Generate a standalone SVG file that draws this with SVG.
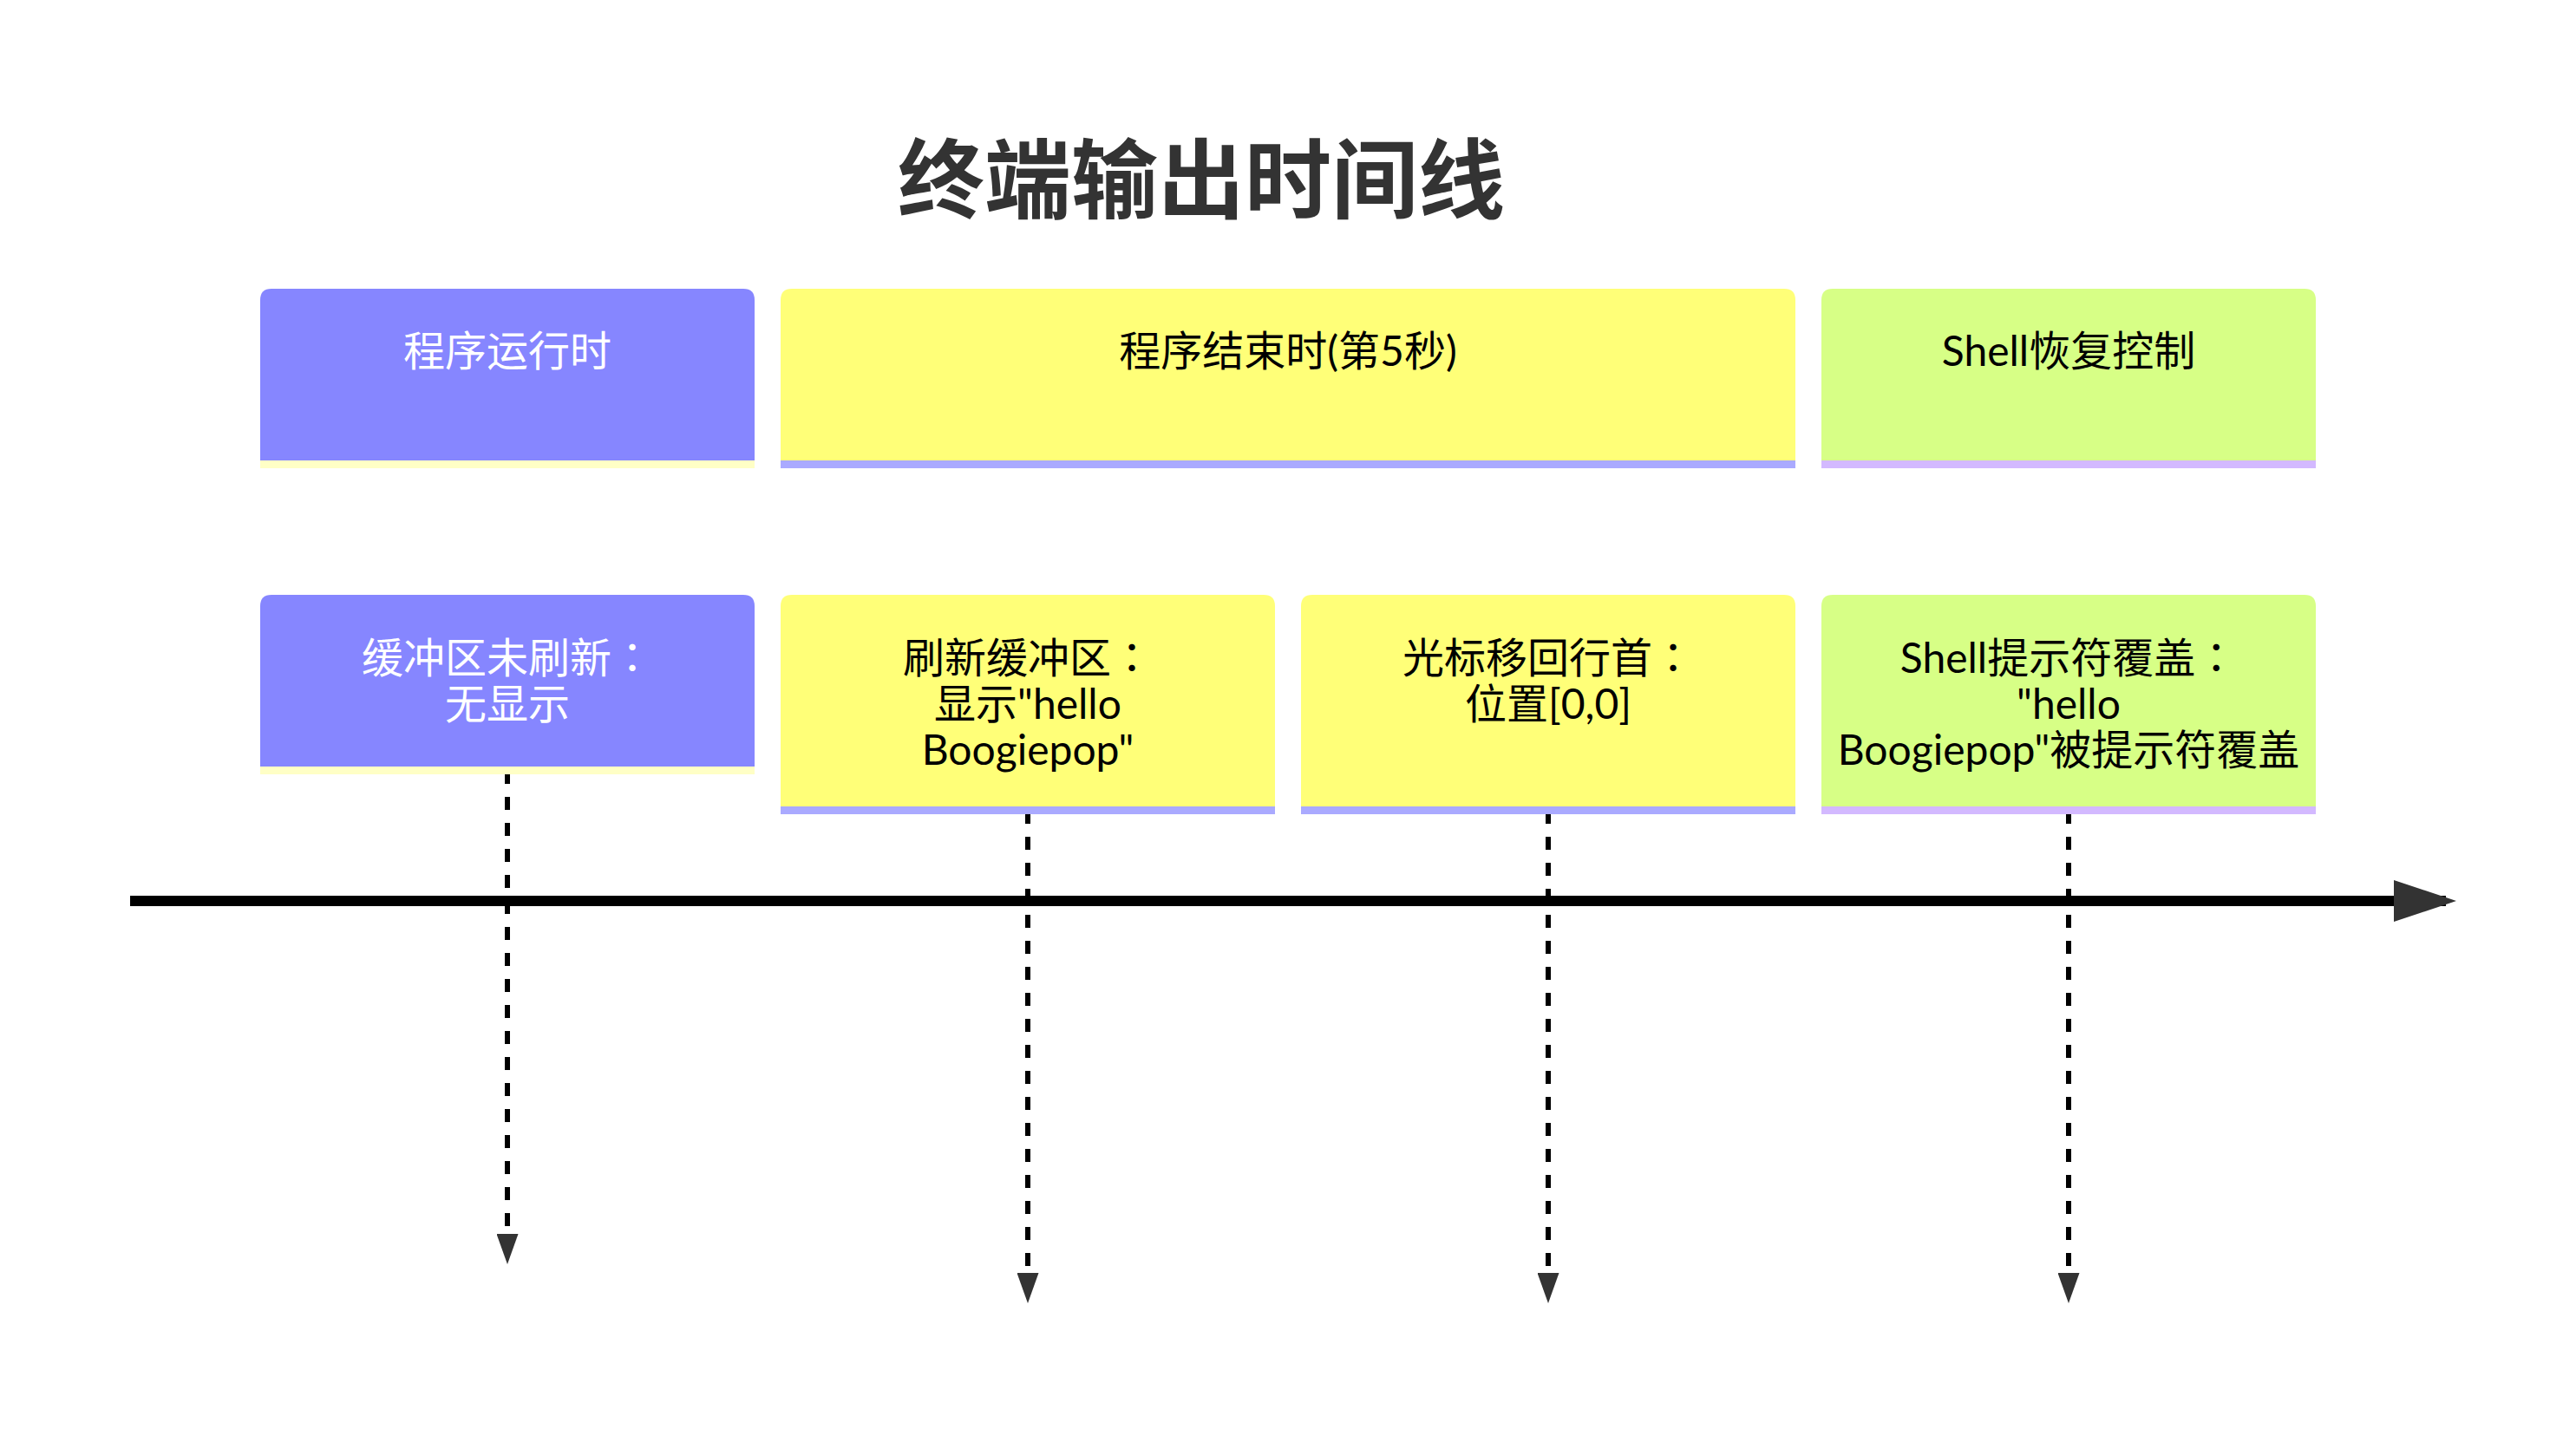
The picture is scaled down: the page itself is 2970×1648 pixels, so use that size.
<svg xmlns="http://www.w3.org/2000/svg" width="2970" height="1648" viewBox="0 0 2970 1648">
<style>
text { font-family: "Lato", "Noto Sans CJK SC", sans-serif; font-size: 48px; text-anchor: middle; }
.fw { font-family: "Noto Sans CJK TC", "Noto Sans CJK SC", sans-serif; }
.title { font-family: "Noto Sans CJK SC", sans-serif; font-size: 100px; font-weight: bold; fill: #333333; }
.s0 { fill: #8686ff; }
.s0t { fill: #ffffff; }
.s0l { fill: #ffffc6; }
.s1 { fill: #ffff78; }
.s1l { fill: #aaaaff; }
.s2 { fill: #d7ff86; }
.s2l { fill: #d3b9ff; }
.dk { fill: #000000; }
.dash { stroke: #000000; stroke-width: 6; stroke-dasharray: 15 15; fill: none; }
.axis { stroke: #000000; stroke-width: 12; fill: none; }
</style>
<defs>
<marker id="down" markerUnits="userSpaceOnUse" viewBox="0 0 35 25" markerWidth="35" markerHeight="25" refX="0" refY="12.5" orient="auto">
<path d="M0,0 L35,12.5 L0,25 Z" fill="#333333"/>
</marker>
</defs>
<rect width="2970" height="1648" fill="#ffffff"/>
<text class="title" x="1385" y="244">终端输出时间线</text>

<g id="connectors">
<line class="dash" x1="585" y1="889" x2="585" y2="1423" marker-end="url(#down)"/>
<line class="dash" x1="1185" y1="935" x2="1185" y2="1468" marker-end="url(#down)"/>
<line class="dash" x1="1785" y1="935" x2="1785" y2="1468" marker-end="url(#down)"/>
<line class="dash" x1="2385" y1="935" x2="2385" y2="1468" marker-end="url(#down)"/>
<line class="axis" x1="150" y1="1039" x2="2820" y2="1039"/>
<polygon points="2760,1015 2832,1039 2760,1063" fill="#333333"/>
</g>

<g id="sec-running">
<path class="s0" d="M300,346 Q300,333 313,333 H857 Q870,333 870,346 V540 H300 Z"/>
<rect class="s0l" x="300" y="531" width="570" height="9"/>
<text class="s0t" x="585" y="422">程序运行时</text>
</g>
<g id="sec-end">
<path class="s1" d="M900,346 Q900,333 913,333 H2057 Q2070,333 2070,346 V540 H900 Z"/>
<rect class="s1l" x="900" y="531" width="1170" height="9"/>
<text class="dk" x="1485" y="422">程序结束时(第5秒)</text>
</g>
<g id="sec-shell">
<path class="s2" d="M2100,346 Q2100,333 2113,333 H2657 Q2670,333 2670,346 V540 H2100 Z"/>
<rect class="s2l" x="2100" y="531" width="570" height="9"/>
<text class="dk" x="2385" y="422">Shell恢复控制</text>
</g>

<g id="ev-noflush">
<path class="s0" d="M300,699 Q300,686 313,686 H857 Q870,686 870,699 V893 H300 Z"/>
<rect class="s0l" x="300" y="884" width="570" height="9"/>
<text class="s0t" x="585" y="776">缓冲区未刷新<tspan class="fw">：</tspan></text>
<text class="s0t" x="585" y="829">无显示</text>
</g>
<g id="ev-flush">
<path class="s1" d="M900,699 Q900,686 913,686 H1457 Q1470,686 1470,699 V939 H900 Z"/>
<rect class="s1l" x="900" y="930" width="570" height="9"/>
<text class="dk" x="1185" y="776">刷新缓冲区<tspan class="fw">：</tspan></text>
<text class="dk" x="1185" y="829">显示"hello</text>
<text class="dk" x="1185" y="882">Boogiepop"</text>
</g>
<g id="ev-cursor">
<path class="s1" d="M1500,699 Q1500,686 1513,686 H2057 Q2070,686 2070,699 V939 H1500 Z"/>
<rect class="s1l" x="1500" y="930" width="570" height="9"/>
<text class="dk" x="1785" y="776">光标移回行首<tspan class="fw">：</tspan></text>
<text class="dk" x="1785" y="829">位置[0,0]</text>
</g>
<g id="ev-prompt">
<path class="s2" d="M2100,699 Q2100,686 2113,686 H2657 Q2670,686 2670,699 V939 H2100 Z"/>
<rect class="s2l" x="2100" y="930" width="570" height="9"/>
<text class="dk" x="2385" y="776">Shell提示符覆盖<tspan class="fw">：</tspan></text>
<text class="dk" x="2385" y="829">"hello</text>
<text class="dk" x="2385" y="882">Boogiepop"被提示符覆盖</text>
</g>
</svg>
